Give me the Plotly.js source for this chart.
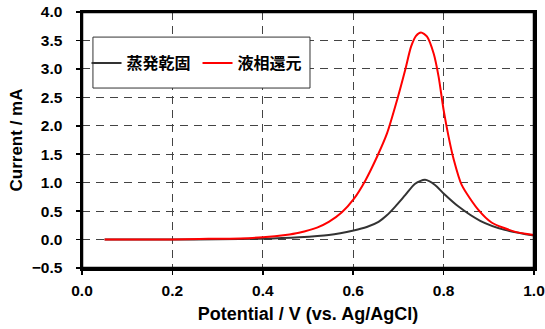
<!DOCTYPE html>
<html>
<head>
<meta charset="utf-8">
<script src="https://cdn.plot.ly/plotly-3.0.1.min.js"></script>
<style>html,body{margin:0;padding:0;background:#fff;}#chart{width:545px;height:329px;}</style>
</head>
<body>
<div id="chart"></div>
<script>
// Series names
const seriesNames = ["蒸発乾固", "液相還元"];

// 蒸発乾固 (black)
const potentialA = [0.05, 0.20, 0.30, 0.40, 0.48, 0.546, 0.601, 0.63, 0.656, 0.675, 0.693, 0.715, 0.737, 0.759, 0.781, 0.80, 0.833, 0.881, 0.935, 1.00];
const currentA   = [0.00, 0.00, 0.005, 0.015, 0.04, 0.08, 0.16, 0.22, 0.31, 0.43, 0.58, 0.78, 0.98, 1.05, 0.96, 0.81, 0.58, 0.33, 0.17, 0.07];

// 液相還元 (red)
const potentialB = [0.05, 0.10, 0.20, 0.26, 0.30, 0.35, 0.40, 0.45, 0.48, 0.52, 0.546, 0.575, 0.601, 0.627, 0.653, 0.675, 0.697, 0.715, 0.728, 0.739, 0.75, 0.763, 0.778, 0.789, 0.80, 0.811, 0.822, 0.84, 0.877, 0.906, 0.957, 1.00];
const currentB   = [0.00, 0.00, 0.00, 0.01, 0.015, 0.02, 0.04, 0.08, 0.12, 0.21, 0.31, 0.48, 0.71, 1.04, 1.46, 1.87, 2.45, 2.98, 3.39, 3.58, 3.64, 3.57, 3.27, 2.86, 2.28, 1.81, 1.42, 0.96, 0.52, 0.30, 0.14, 0.08];

// Axis ticks
const xTicks = [0, 0.2, 0.4, 0.6, 0.8, 1.0];
const yTicks = [-0.5, 0, 0.5, 1.0, 1.5, 2.0, 2.5, 3.0, 3.5, 4.0];

const font = "Liberation Sans, Arial, Noto Sans CJK JP, sans-serif";
const cjk = "Noto Sans CJK JP, Liberation Sans, sans-serif";

const traces = [
  {x: potentialA, y: currentA, name: seriesNames[0], mode: "lines",
   line: {color: "#333333", width: 2, shape: "spline", smoothing: 0.7}},
  {x: potentialB, y: currentB, name: seriesNames[1], mode: "lines",
   line: {color: "#ff0000", width: 2, shape: "spline", smoothing: 0.7}}
];

const axisCommon = {
  showline: true, mirror: true, linecolor: "#000", linewidth: 2.5,
  ticks: "outside", ticklen: 4, tickwidth: 1.5, tickcolor: "#000",
  showgrid: true, gridcolor: "#444", gridwidth: 1, griddash: "8px,6px",
  zeroline: false, tickformat: ".1f",
  tickfont: {family: font, size: 15.5, color: "#000", weight: "bold"}
};

const layout = {
  width: 545, height: 329,
  margin: {l: 82, r: 11, t: 12, b: 61},
  paper_bgcolor: "#fff", plot_bgcolor: "#fff",
  showlegend: true,
  legend: {
    orientation: "h", x: 0.01, y: 0.80, xanchor: "left", yanchor: "middle",
    bgcolor: "rgba(0,0,0,0)", borderwidth: 0,
    entrywidth: 66, entrywidthmode: "pixels",
    font: {family: cjk, size: 16, color: "#000", weight: "bold"}
  },
  shapes: [{
    type: "rect", xref: "paper", yref: "paper",
    x0: 0.0242, x1: 0.5044, y0: 0.703, y1: 0.902,
    line: {color: "#333", width: 1}, fillcolor: "#fff", layer: "above"
  }, {
    type: "rect", xref: "paper", yref: "paper",
    x0: 0, x1: 1, y0: 0, y1: 1,
    line: {color: "#000", width: 2.5}, layer: "above"
  }],
  xaxis: Object.assign({}, axisCommon, {
    range: [0, 1.0], tickvals: xTicks, ticklabelstandoff: 3,
    title: {text: "Potential / V (vs. Ag/AgCl)", standoff: 10,
            font: {family: font, size: 18, color: "#000", weight: "bold"}}
  }),
  yaxis: Object.assign({}, axisCommon, {
    range: [-0.5, 4.0], tickvals: yTicks, ticklabelstandoff: 10,
    title: {text: "Current / mA", standoff: 5,
            font: {family: font, size: 17, color: "#000", weight: "bold"}}
  })
};

Plotly.newPlot("chart", traces, layout, {displayModeBar: false, staticPlot: true});
</script>
</body>
</html>
